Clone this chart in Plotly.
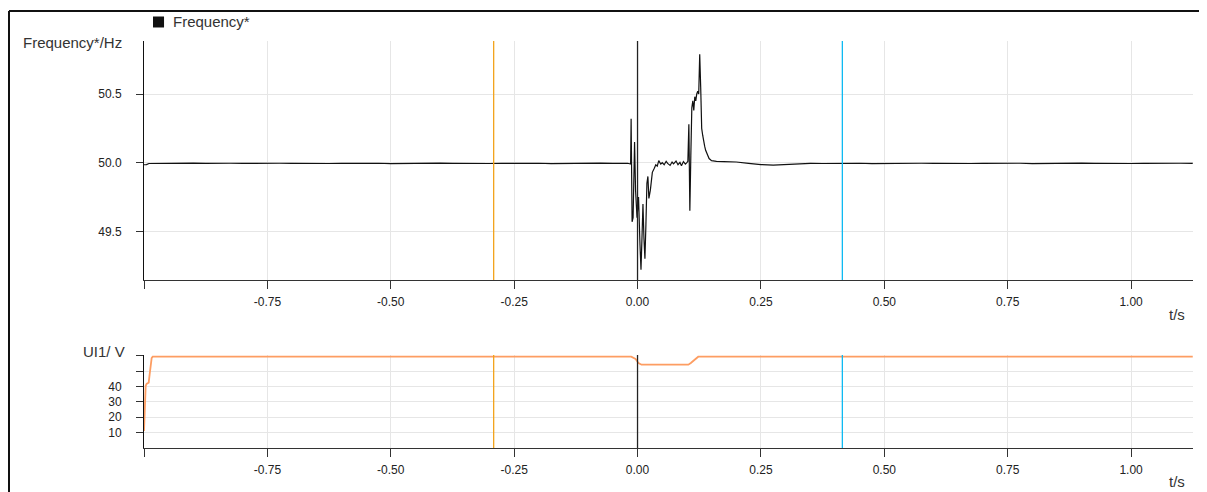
import plotly.graph_objects as go

# ---------------- data ----------------
freq_t_pre = [
    -1.000, -0.995, -0.990, -0.975, -0.950, -0.925, -0.900, -0.875, -0.850, -0.825,
    -0.800, -0.775, -0.750, -0.725, -0.700, -0.675, -0.650, -0.625, -0.600, -0.575,
    -0.550, -0.525, -0.500, -0.475, -0.450, -0.425, -0.400, -0.375, -0.350, -0.325,
    -0.300, -0.275, -0.250, -0.225, -0.200, -0.175, -0.150, -0.125, -0.100, -0.075,
    -0.050, -0.030, -0.020]
freq_hz_pre = [
    49.985, 49.986, 49.994, 49.995, 49.996, 49.994, 49.997, 49.995, 49.993, 49.996,
    49.995, 49.997, 49.994, 49.996, 49.995, 49.993, 49.996, 49.994, 49.995, 49.997,
    49.994, 49.996, 49.993, 49.995, 49.996, 49.994, 49.997, 49.995, 49.993, 49.996,
    49.994, 49.995, 49.997, 49.994, 49.996, 49.993, 49.995, 49.996, 49.994, 49.997,
    49.995, 49.994, 49.996]

freq_t_event = [
    -0.014, -0.013, -0.011, -0.009, -0.006, -0.004, -0.001, 0.002, 0.005, 0.007,
    0.009, 0.011, 0.013, 0.015, 0.017, 0.019, 0.021, 0.023, 0.026, 0.030,
    0.034, 0.037, 0.040, 0.043, 0.047, 0.050, 0.054, 0.058, 0.061, 0.066,
    0.070, 0.073, 0.078, 0.082, 0.086, 0.089, 0.093, 0.097, 0.100, 0.102,
    0.104, 0.106, 0.108, 0.110, 0.112, 0.114, 0.116, 0.118, 0.120, 0.122,
    0.124, 0.126, 0.128, 0.130, 0.132, 0.134, 0.136, 0.138, 0.141, 0.145,
    0.150, 0.160]
freq_hz_event = [
    49.990, 50.320, 49.570, 49.600, 50.150, 49.800, 49.600, 49.750, 49.400, 49.220,
    49.450, 49.700, 49.450, 49.300, 49.550, 49.850, 49.900, 49.740, 49.800, 49.930,
    49.960, 49.985, 49.975, 50.015, 49.990, 50.000, 49.985, 50.010, 49.995, 49.980,
    50.005, 49.992, 50.012, 49.985, 50.002, 49.978, 50.008, 49.990, 50.000, 50.010,
    50.280, 49.650, 50.050, 50.400, 50.450, 50.380, 50.480, 50.450, 50.500, 50.520,
    50.500, 50.790, 50.550, 50.250, 50.200, 50.150, 50.120, 50.090, 50.060, 50.030,
    50.015, 50.010]

freq_t_post = [
    0.175, 0.200, 0.225, 0.250, 0.275, 0.300, 0.325, 0.350, 0.375, 0.400,
    0.425, 0.450, 0.475, 0.500, 0.525, 0.550, 0.575, 0.600, 0.625, 0.650,
    0.675, 0.700, 0.725, 0.750, 0.775, 0.800, 0.825, 0.850, 0.875, 0.900,
    0.925, 0.950, 0.975, 1.000, 1.025, 1.050, 1.075, 1.100, 1.125]
freq_hz_post = [
    50.008, 50.005, 49.995, 49.986, 49.983, 49.988, 49.992, 49.995, 49.994, 49.996,
    49.994, 49.996, 49.993, 49.995, 49.997, 49.994, 49.996, 49.995, 49.993, 49.996,
    49.994, 49.995, 49.997, 49.994, 49.996, 49.993, 49.995, 49.996, 49.994, 49.997,
    49.995, 49.993, 49.996, 49.994, 49.995, 49.997, 49.994, 49.996, 49.995]

volt_t = [-1.000, -0.9992, -0.9985, -0.9966, -0.9945, -0.9905, -0.9885, -0.9864, -0.9845, -0.9824,
          -0.0128, -0.004, 0.002, 0.008, 0.103, 0.108, 0.113, 0.119, 0.123, 1.125]
volt_v = [11.0, 20.0, 28.0, 40.5, 41.8, 42.5, 48.0, 55.5, 58.5, 59.4,
          59.4, 57.9, 55.2, 54.2, 54.2, 55.3, 56.8, 58.7, 59.4, 59.4]

cursor_t = [-0.2915, 0.0, 0.415]
cursor_colors = ["#f2a31b", "#222222", "#0fbaf2"]

x_tickvals = [-1.0, -0.75, -0.5, -0.25, 0.0, 0.25, 0.5, 0.75, 1.0]
x_ticktext = ["", "-0.75", "-0.50", "-0.25", "0.00", "0.25", "0.50", "0.75", "1.00"]
f_tickvals = [49.5, 50.0, 50.5]
f_ticktext = ["49.5", "50.0", "50.5"]
v_tickvals = [10, 20, 30, 40, 50, 60]
v_ticktext = ["10", "20", "30", "40", "", ""]

# ---------------- figure ----------------
FONT = "Liberation Sans, Arial, sans-serif"
freq_t = freq_t_pre + freq_t_event + freq_t_post
freq_hz = freq_hz_pre + freq_hz_event + freq_hz_post

fig = go.Figure()
fig.add_trace(go.Scatter(x=freq_t, y=freq_hz, mode="lines",
                         line=dict(color="#111111", width=1.2),
                         xaxis="x", yaxis="y", showlegend=False))
fig.add_trace(go.Scatter(x=volt_t, y=volt_v, mode="lines",
                         line=dict(color="#fd9d62", width=1.8),
                         xaxis="x2", yaxis="y2", showlegend=False))

axis_common = dict(showgrid=True, gridcolor="#e6e6e6", gridwidth=1,
                   zeroline=False, showline=True, linewidth=1,
                   ticks="outside", tickcolor="#333333", tickwidth=1,
                   tickfont=dict(family=FONT, size=12, color="#222222"))

# page body has an 8px margin: figure is placed at (8, 8) in the window
fig.update_layout(
    width=1199, height=484,
    margin=dict(l=136, r=14, t=33, b=44),
    paper_bgcolor="white", plot_bgcolor="white",
    xaxis=dict(domain=[0, 1], anchor="y", range=[-1.0, 1.1255],
               tickmode="array", tickvals=x_tickvals, ticktext=x_ticktext,
               ticklen=8, linecolor="#333333", ticklabelstandoff=3, **axis_common),
    yaxis=dict(domain=[0.4128, 1.0], anchor="x", range=[49.146, 50.886],
               tickmode="array", tickvals=f_tickvals, ticktext=f_ticktext,
               ticklen=7, linecolor="#111111", ticklabelstandoff=12, **axis_common),
    xaxis2=dict(domain=[0, 1], anchor="y2", range=[-1.0, 1.1255],
                tickmode="array", tickvals=x_tickvals, ticktext=x_ticktext,
                ticklen=8, linecolor="#333333", ticklabelstandoff=3, **axis_common),
    yaxis2=dict(domain=[0.0, 0.2285], anchor="x2", range=[0, 60.5],
                tickmode="array", tickvals=v_tickvals, ticktext=v_ticktext,
                ticklen=7, linecolor="#111111", ticklabelstandoff=12, **axis_common),
)

shapes = []
for t, c in zip(cursor_t, cursor_colors):
    for yr in ["y domain", "y2 domain"]:
        shapes.append(dict(type="line", xref="x", yref=yr, x0=t, x1=t, y0=0, y1=1,
                           line=dict(color=c, width=1.3)))
# legend square
shapes.append(dict(type="rect", xref="paper", yref="paper",
                   x0=0.0086, x1=0.0191, y0=1.0332, y1=1.0602,
                   fillcolor="#111111", line=dict(width=0)))
# outer frame
shapes.append(dict(type="line", xref="paper", yref="paper",
                   x0=-0.1287, x1=-0.1287, y0=1.0737, y1=-0.3,
                   line=dict(color="#111111", width=2)))
shapes.append(dict(type="line", xref="paper", yref="paper",
                   x0=-0.1287, x1=1.1, y0=1.0737, y1=1.0737,
                   line=dict(color="#111111", width=2)))
fig.update_layout(shapes=shapes)

title_font = dict(family=FONT, size=15, color="#333333")
annotations = [
    dict(text="Frequency*", xref="paper", yref="paper", x=0.0257, y=1.0467,
         xanchor="left", yanchor="middle", showarrow=False, font=title_font),
    dict(text="Frequency*/Hz", xref="paper", yref="paper", x=-0.0191, y=0.9975,
         xanchor="right", yanchor="middle", showarrow=False, font=title_font),
    dict(text="UI1/ V", xref="paper", yref="paper", x=-0.0165, y=0.2359,
         xanchor="right", yanchor="middle", showarrow=False, font=title_font),
    dict(text="t/s", xref="paper", yref="paper", x=0.9847, y=0.3292,
         xanchor="center", yanchor="middle", showarrow=False, font=title_font),
    dict(text="t/s", xref="paper", yref="paper", x=0.9847, y=-0.0835,
         xanchor="center", yanchor="middle", showarrow=False, font=title_font),
]
fig.update_layout(annotations=annotations)

fig.write_html("out.html")
